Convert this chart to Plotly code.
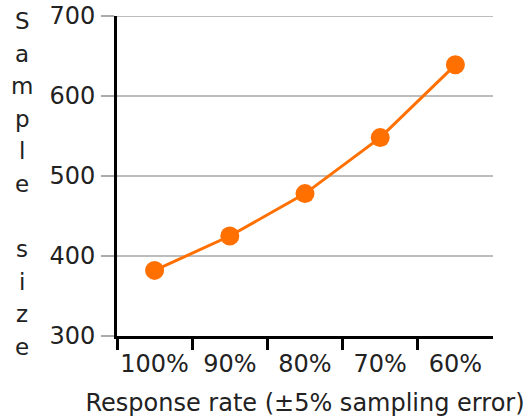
import plotly.graph_objects as go

categories = ["100%", "90%", "80%", "70%", "60%"]
sample_size = [382, 425, 478, 548, 639]
y_ticks = [300, 400, 500, 600, 700]
x_title = "Response rate (±5% sampling error)"
y_title_letters = list("Sample") + [""] + list("size")

W, H = 532, 418
L, R, T, B = 117, 39, 16, 82

xs = list(range(len(categories)))
bounds = [i - 0.5 for i in xs]

fig = go.Figure()
fig.add_trace(go.Scatter(
    x=xs, y=sample_size, mode="lines+markers",
    line=dict(color="#ff7000", width=3),
    marker=dict(color="#ff7000", size=19),
    cliponaxis=False, showlegend=False,
))

font = dict(family="DejaVu Sans", size=24, color="#222222")
lfont = dict(family="DejaVu Sans", size=23, color="#222222")

# stacked vertical axis title letters
plot_h = H - T - B
plot_w = W - L - R
first_py, step_py = 21, 32.6
for i, ch in enumerate(y_title_letters):
    if not ch:
        continue
    py = first_py + i * step_py
    fig.add_annotation(
        text=ch, x=(22 - L) / plot_w, xref="paper",
        y=(H - B - py) / plot_h, yref="paper",
        showarrow=False, xanchor="center", yanchor="middle",
        font=lfont,
    )

# top gridline at the range edge
fig.add_shape(type="line", xref="paper", x0=0, x1=1, yref="y",
              y0=y_ticks[-1], y1=y_ticks[-1],
              line=dict(color="#bdbdbd", width=2), layer="below")

fig.update_layout(
    width=W, height=H,
    margin=dict(l=L, r=R, t=T, b=B, autoexpand=False),
    paper_bgcolor="white", plot_bgcolor="white",
    font=font,
    xaxis=dict(
        range=[-0.5, len(categories) - 0.5],
        automargin=False,
        tickmode="array", tickvals=xs, ticktext=categories,
        ticks="outside", ticklen=4, tickcolor="rgba(0,0,0,0)",
        showgrid=False, zeroline=False,
        showline=True, linecolor="black", linewidth=3,
        minor=dict(tickmode="array", tickvals=bounds, ticks="outside",
                   ticklen=11, tickwidth=3, tickcolor="black", showgrid=False),
        title=dict(text=x_title, font=font, standoff=18),
        tickfont=font,
    ),
    yaxis=dict(
        range=[300, 700],
        automargin=False,
        tickmode="array", tickvals=y_ticks,
        ticks="outside", ticklen=13, tickwidth=2, tickcolor="#aaaaaa",
        showgrid=True, gridcolor="#bdbdbd", gridwidth=2,
        zeroline=False,
        showline=True, linecolor="black", linewidth=3,
        ticklabelstandoff=1,
        ticklabeloverflow="allow",
        tickfont=font,
    ),
)

fig.write_html("out.html", config={"displayModeBar": False},
               post_script="document.body.style.margin='0';")
